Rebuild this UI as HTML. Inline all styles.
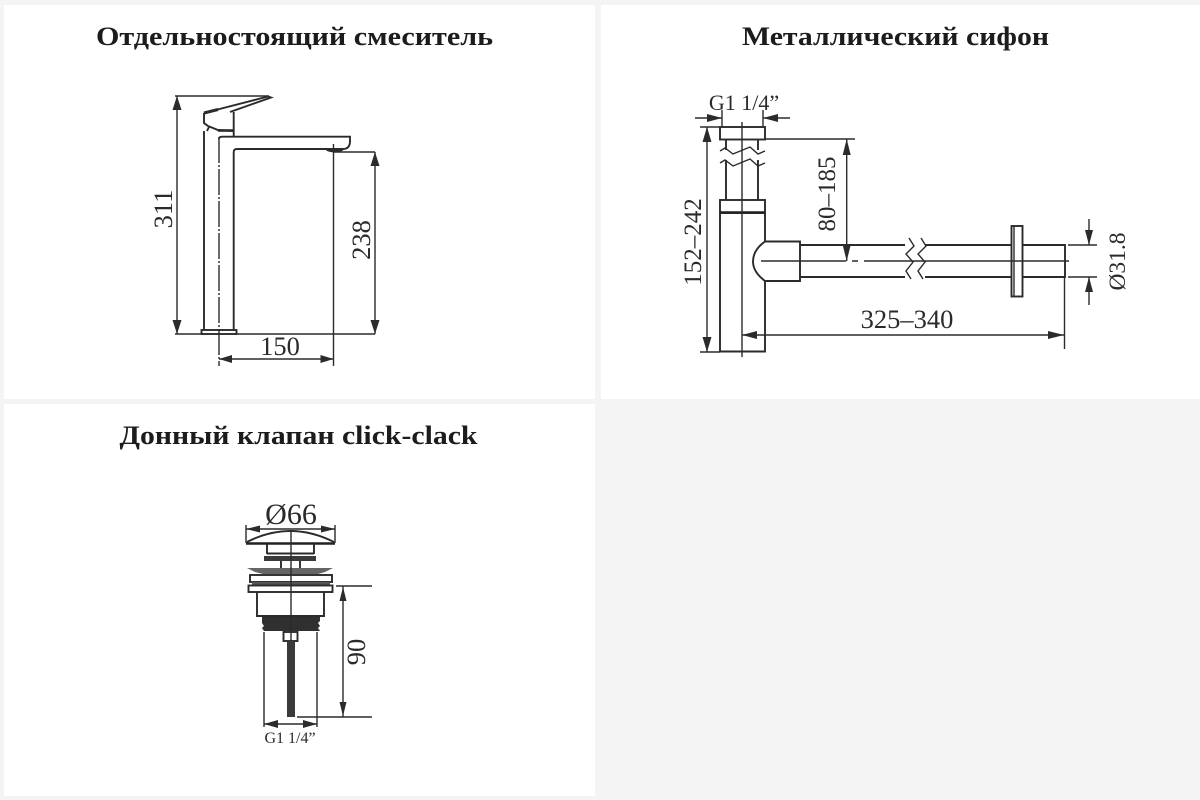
<!DOCTYPE html>
<html>
<head>
<meta charset="utf-8">
<style>
html,body{margin:0;padding:0;background:#f4f4f4;}
body{width:1200px;height:800px;overflow:hidden;}
svg{display:block;}
.t{font-family:"Liberation Serif","Noto Serif CJK SC",serif;font-weight:700;font-size:26px;fill:#1c1c1c;text-anchor:middle;}
.n{font-family:"Liberation Serif",serif;font-size:25px;fill:#2a2a2a;text-anchor:middle;}
.l{fill:none;stroke:#2b2b2b;stroke-width:1.4;}
.h{fill:none;stroke:#2b2b2b;stroke-width:1.9;}
.f{fill:#2b2b2b;stroke:none;}
</style>
</head>
<body>
<svg width="1200" height="800" viewBox="0 0 1200 800" xmlns="http://www.w3.org/2000/svg">
<rect width="1200" height="800" fill="#f4f4f4"/>
<rect x="4" y="5" width="591" height="394" fill="#fff"/>
<rect x="601" y="5" width="599" height="394" fill="#fff"/>
<rect x="4" y="404" width="591" height="392" fill="#fff"/>

<text class="t" x="294.5" y="45" textLength="397" lengthAdjust="spacingAndGlyphs">Отдельностоящий смеситель</text>
<text class="t" x="895.5" y="45" textLength="307" lengthAdjust="spacingAndGlyphs">Металлический сифон</text>
<text class="t" x="298.5" y="444" textLength="358" lengthAdjust="spacingAndGlyphs">Донный клапан click-clack</text>

<!-- Faucet -->
<path class="l" d="M175 96H269M177 96V334M175 334H201M237 334H375M333 152H375M375 152V334"/>
<path class="h" d="M204 113L268 96.500L271 97.500L230 112M204 113V123L208 126L218 130L233.700 131M233.700 112V137M204 131V330M207 131L209 127"/>
<path d="M204 113L218 109.500" stroke="#2b2b2b" stroke-width="3" fill="none"/>
<path d="M218 130.500H233.700" stroke="#2b2b2b" stroke-width="2.600" fill="none"/>
<path class="h" d="M219 139Q219 136.700 222 136.700H350V141Q350 149 343 149H237Q233.700 149 233.700 152V330"/>
<path class="f" d="M325 149H345L342 151Q334 154 327 151Z"/>
<rect class="h" x="201.500" y="330" width="35" height="4"/>
<path class="l" d="M219 137V366" stroke-dasharray="26 2 2 2"/>
<path class="l" d="M333.500 144V366M219 359H333.500"/>
<path class="f" d="M177 96L172.500 110H181.500ZM177 334L172.500 320H181.500ZM375 152L370.500 166H379.500ZM375 334L370.500 320H379.500ZM219 359L232 355V363ZM333.500 359L320.500 355V363Z"/>
<text class="n" x="280" y="355" style="font-size:26.500px">150</text>
<text class="n" transform="translate(172,209) rotate(-90)" style="font-size:26.500px">311</text>
<text class="n" transform="translate(370,240) rotate(-90)" style="font-size:26.500px">238</text>

<!-- Siphon -->
<rect class="h" x="720" y="127" width="45" height="12.500"/>
<path class="h" d="M726 139.500V150M758 139.500V150M726 160V200M758 160V200"/>
<path class="l" d="M720 151L725 148L733 154L750 147L758 154L765 151M720 163L725 160L733 166L750 159L758 166L765 163"/>
<rect class="h" x="720" y="200" width="45" height="13"/>
<path d="M720 212.500H765" stroke="#222" stroke-width="2.400" fill="none"/>
<path class="h" d="M720 213V351.500H765V281M765 213V241.500"/>
<path class="l" d="M742 122V357"/>
<path class="h" d="M765 241.500H800V281H765Q753 272 753 261.500Q753 250 765 241.500Z"/>
<path class="h" d="M800 245H905M800 277H905M925 245H1011M925 277H1011M1022.500 245H1065V277H1022.500"/>
<path class="l" d="M909 238L914 246L906 254L913 262L906 271L911 279M921 238L926 246L918 254L925 262L918 271L923 279"/>
<rect class="h" x="1011.500" y="226" width="11" height="70.500"/>
<path class="l" d="M1014 226V296M761 261H846M852 261H858M864 261H1069"/>
<path class="l" d="M1068 245H1097M1068 277H1097M1089 219V245M1089 277V305M1064.500 277V349M742 335H1064M765 139H855M846.700 139V261M707 127V352M700 127H720M700 352H720M695 118H722M763 118H790M722 110V126M763 110V126"/>
<path class="f" d="M1089 245L1085 230H1093ZM1089 277L1085 292H1093ZM742 335L757 331V339ZM1064 335L1048 331V339ZM846.700 139L842.700 155H850.700ZM846.700 261L842.700 245H850.700ZM707 127L702.500 142H711.500ZM707 352L702.500 337H711.500ZM722 118L707 114V122ZM763 118L778 114V122Z"/>
<text class="n" x="744" y="110" style="font-size:22px">G1 1/4”</text>
<text class="n" x="907" y="328" style="font-size:26.500px">325–340</text>
<text class="n" transform="translate(835,194) rotate(-90)">80–185</text>
<text class="n" transform="translate(701,242) rotate(-90)">152–242</text>
<text class="n" transform="translate(1125,261.500) rotate(-90)" style="font-size:23.500px">Ø31.8</text>

<!-- Drain -->
<path class="l" d="M246 525V543M335 525V543M246 529H335"/>
<path class="f" d="M246 529L260 525.500V532.500ZM335 529L321 525.500V532.500Z"/>
<path class="h" d="M247 542Q290 520 334 542"/>
<path d="M246 543.500H335" stroke="#222" stroke-width="2.500" fill="none"/>
<path class="h" d="M267 544V554M314 544V554M267 553.500H314"/>
<rect x="264" y="556" width="52" height="5" fill="#3a3a3a"/>
<path class="h" d="M281 561V568M300 561V568"/>
<path d="M247 568H333L325 572L318 574H263L255 572Z" fill="#666"/>
<rect class="h" x="250" y="575" width="82" height="7"/>
<rect x="252" y="582" width="78" height="3" fill="#555"/>
<rect class="h" x="248.500" y="585.500" width="84" height="6.500"/>
<path class="h" d="M257 592V616H324V592"/>
<path d="M262 617H320V621L318 623L320 626L318 628L320 631H264L262 628L264 626L262 623Z" fill="#303030"/>
<rect class="h" x="283.500" y="632" width="14" height="9"/>
<rect x="287" y="641" width="8" height="76" fill="#3a3a3a"/>
<path class="l" d="M291 530V640"/>
<path class="l" d="M264 632V727M317 632V727M264 724H317"/>
<path class="f" d="M264 724L278 720V728ZM317 724L303 720V728Z"/>
<path class="l" d="M336 586H372M343 586V717M297 717H372"/>
<path class="f" d="M343 587L339.500 601H346.500ZM343 716L339.500 702H346.500Z"/>
<text class="n" x="291" y="524" style="font-size:30px">Ø66</text>
<text class="n" x="290" y="743" style="font-size:16px">G1 1/4”</text>
<text class="n" transform="translate(365,652) rotate(-90)" style="font-size:26.500px">90</text>
</svg>
</body>
</html>
